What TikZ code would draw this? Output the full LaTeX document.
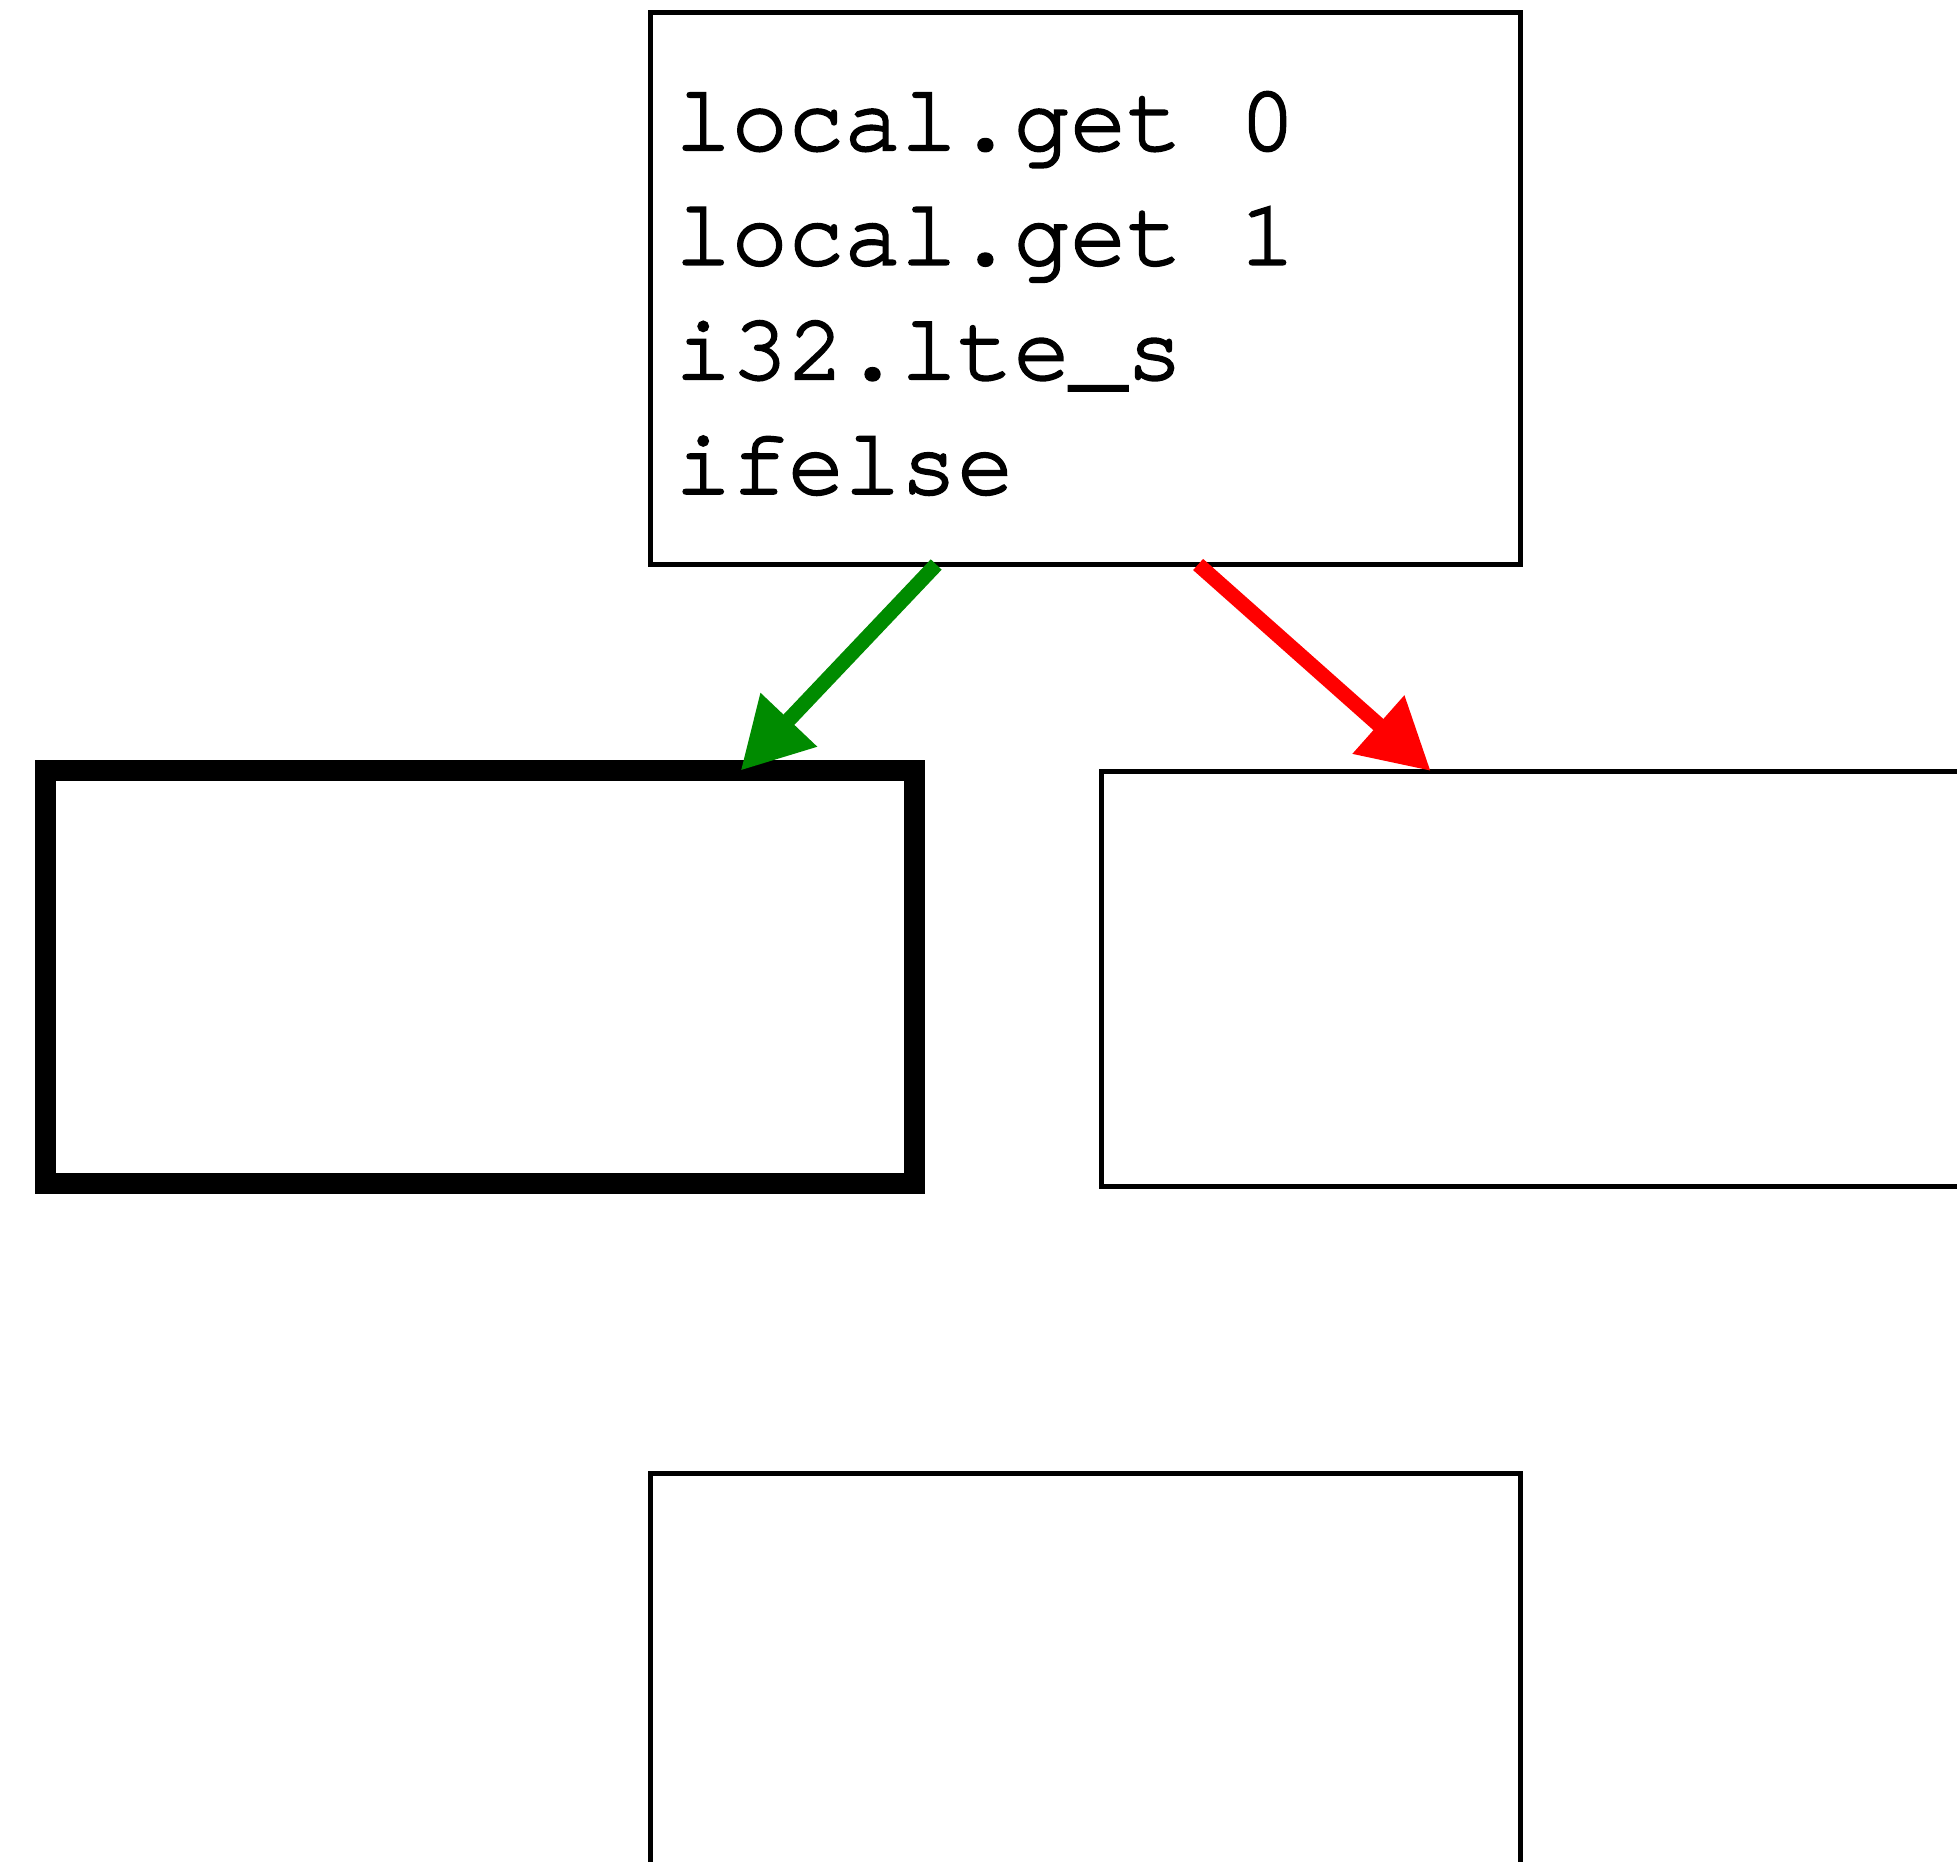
\documentclass[tikz,border=0pt]{standalone}
\usepackage{fontspec}
\setmonofont{TeX Gyre Cursor}[RawFeature={embolden=2.5}]
\usepackage{tikz}
\usetikzlibrary{arrows.meta, positioning, calc}

\definecolor{takengreen}{RGB}{0,139,0}

\begin{document}
\begin{tikzpicture}[
        blk/.style={rectangle, draw, line width=0.05cm, minimum width=8.7cm, minimum height=4.15cm, inner sep=0pt, outer sep=0pt},
        codeblk/.style={blk, minimum height=5.52cm, inner xsep=0.25cm, text width=8.2cm, align=flush left,
            font=\ttfamily\fontsize{26.76}{32.6}\selectfont},
        exitblk/.style={blk, line width=0.21cm, minimum width=8.69cm, minimum height=4.13cm},
        branch/.style={-{Triangle[length=0.7cm, width=0.74cm]}, line width=0.15cm}
    ]
        \path[use as bounding box, clip] (0,0) rectangle (19.57,-18.62);
        \node[codeblk] (b0) at (10.85,-2.885) {\rule{0pt}{0.68cm}local.get 0\\local.get 1\\i32.lte\_s\\ifelse};
        \node[exitblk] (b1) at (4.80,-9.77) {};
        \node[blk] (b2) at (15.36,-9.785) {};
        \node[blk] (b3) at (10.85,-16.81) {};
        % true / false edges
        \draw[branch, takengreen] ($(b0.south west)!0.329!(b0.south east)$) -- ($(b1.north west)!0.8!(b1.north east)$);
        \draw[branch, red] ($(b0.south west)!0.63!(b0.south east)$) -- ($(b2.north west)!0.379!(b2.north east)$);
    \end{tikzpicture}
\end{document}
